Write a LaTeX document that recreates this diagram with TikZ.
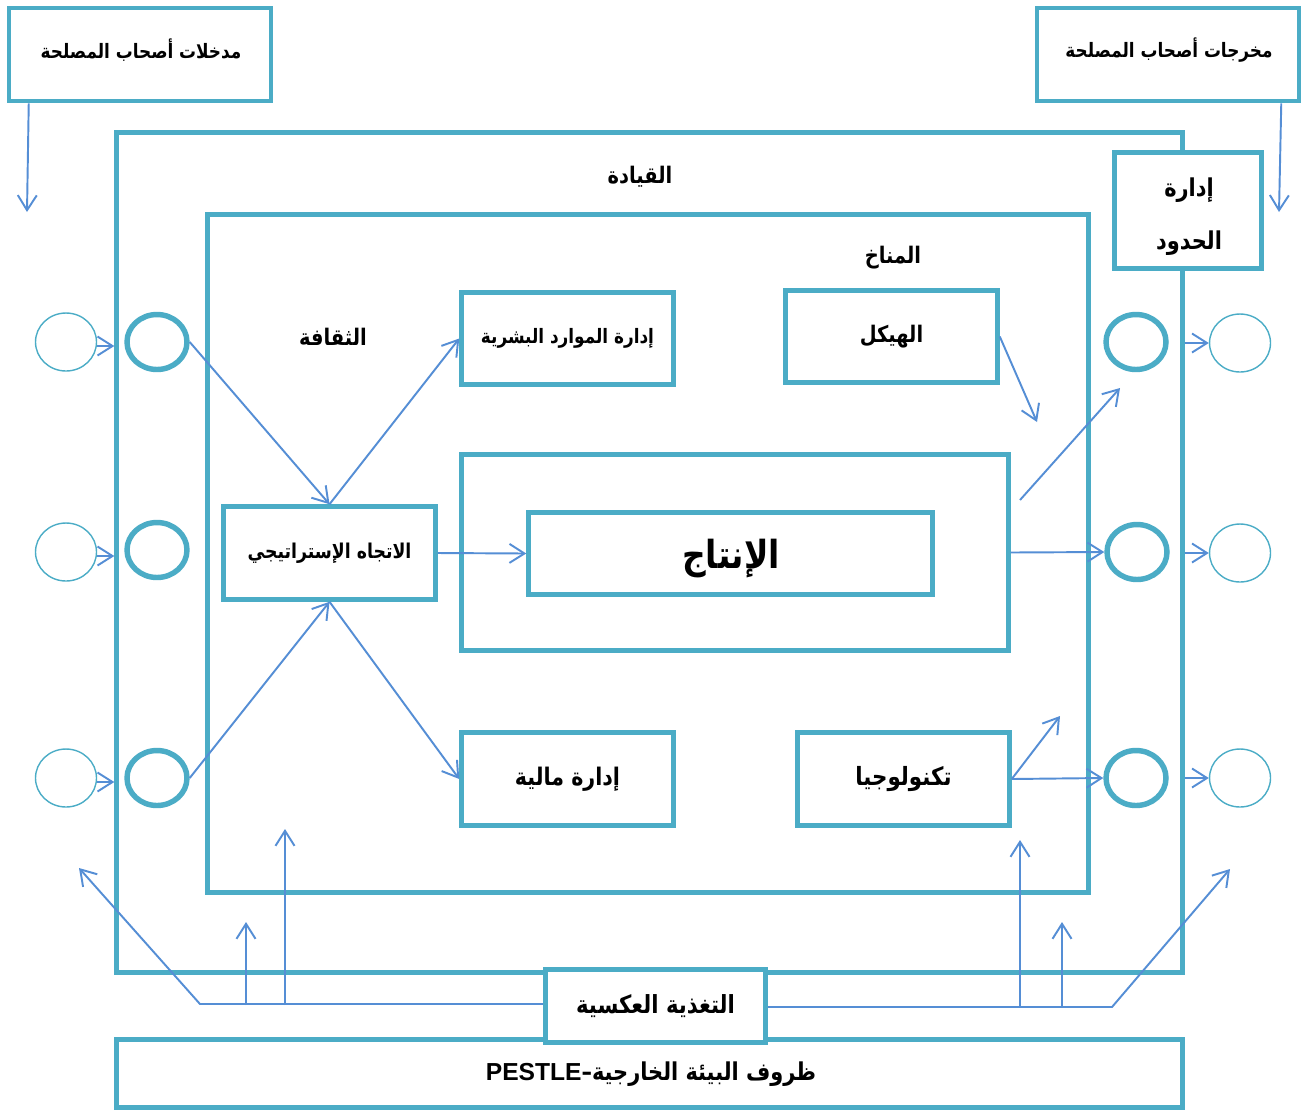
\documentclass[tikz,border=0pt]{standalone}
\usepackage{fontspec}
\usetikzlibrary{arrows.meta,shapes.geometric}
\TeXXeTstate=1
\newfontfamily\arfont[Script=Arabic,FakeStretch=0.85]{DejaVu Sans}
\newfontfamily\latfont{Liberation Sans}
\definecolor{tealframe}{HTML}{4BACC6}
\definecolor{arrowblue}{HTML}{558ED5}
\newcommand{\artxt}[1]{{\arfont\beginR #1\endR}}
\newcommand{\arsize}[1]{\arfont\bfseries\fontsize{#1}{#1}\selectfont}
\begin{document}
\begin{tikzpicture}[x=0.02cm,y=-0.02cm,
  box/.style={draw=tealframe,line width=2.6pt,fill=white,rectangle,inner sep=0pt,
    font=\arsize{13}},
  txt/.style={inner sep=0pt,font=\arsize{13}},
  ring/.style={draw=tealframe,ellipse,inner sep=0pt,line width=3.1pt,
    minimum width=1.2cm,minimum height=1.1cm},
  thinring/.style={draw=tealframe,ellipse,inner sep=0pt,line width=0.8pt,
    minimum width=1.22cm,minimum height=1.16cm},
  wire/.style={draw=arrowblue,line width=1.1pt},
  arr/.style={wire,-{Straight Barb[length=0.3cm,width=0.38cm]}},
]
\useasboundingbox (0,0) rectangle (1304,1113);

% stakeholder boxes at the top
\node[box,minimum width=5.24cm,minimum height=1.86cm] (inbox) at (140,54.5) {};
\node[txt,font=\arsize{11.3}] (inlbl) at (141,50) {\artxt{مدخلات أصحاب المصلحة}};
\node[box,minimum width=5.24cm,minimum height=1.86cm] (outbox) at (1168,54.5) {};
\node[txt,font=\arsize{11.3}] (outlbl) at (1169,50) {\artxt{مخرجات أصحاب المصلحة}};

% leadership frame and boundary management
\node[box,minimum width=21.32cm,minimum height=16.8cm] (lead) at (649.5,552.5) {};
\node[txt] (leadlbl) at (640,177) {\artxt{القيادة}};
\node[box,minimum width=2.94cm,minimum height=2.32cm] (bound) at (1188,210.5) {};
\node[txt,align=center,font=\arfont\bfseries\fontsize{14}{30}\selectfont] (boundlbl) at (1189,217)
  {\artxt{إدارة}\\\artxt{الحدود}};

% culture / climate frame
\node[box,minimum width=17.62cm,minimum height=13.56cm] (core) at (648,553.5) {};
\node[txt] (climate) at (893,258) {\artxt{المناخ}};
\node[txt] (culture) at (333,337) {\artxt{الثقافة}};

% inner elements
\node[box,minimum width=4.24cm,minimum height=1.84cm,font=\arsize{11.3}] (hr) at (567.5,338.5) {\artxt{إدارة الموارد البشرية}};
\node[box,minimum width=4.24cm,minimum height=1.84cm] (struct) at (891.5,336.5) {\artxt{الهيكل}};
\node[box,minimum width=10.94cm,minimum height=3.92cm] (prodout) at (735,552.5) {};
\node[box,minimum width=8.08cm,minimum height=1.64cm] (prodin) at (730.5,553.5) {};
\node[txt,font=\arsize{22}] (prodlbl) at (731,559) {\artxt{الإنتاج}};
\node[box,minimum width=4.24cm,minimum height=1.86cm,font=\arsize{11.6}] (strat) at (329.5,553) {\artxt{الاتجاه الإستراتيجي}};
\node[box,minimum width=4.24cm,minimum height=1.86cm,font=\arsize{13.8}] (fin) at (567.5,779) {\artxt{إدارة مالية}};
\node[box,minimum width=4.24cm,minimum height=1.86cm,font=\arsize{14.3}] (tech) at (903.5,779) {\artxt{تكنولوجيا}};

% environment and feedback
\node[box,minimum width=21.32cm,minimum height=1.36cm] (env) at (649.5,1073.5) {};
\node[txt,font=\arsize{14}] (envlbl) at (651,1074)
  {\artxt{ظروف البيئة الخارجية–\beginL{\latfont\bfseries\fontsize{14}{16}\selectfont PESTLE}\endL}};
\node[box,minimum width=4.4cm,minimum height=1.46cm,font=\arsize{14.2}] (fb) at (655.5,1006) {\artxt{التغذية العكسية}};

% input and output circles
\node[thinring] (ol1) at (66,342) {};
\node[thinring] (ol2) at (66,552) {};
\node[thinring] (ol3) at (66,778) {};
\node[ring] (il1) at (157,342) {};
\node[ring] (il2) at (157,550) {};
\node[ring] (il3) at (157,778) {};
\node[ring] (ir1) at (1136,342) {};
\node[ring] (ir2) at (1137,552) {};
\node[ring] (ir3) at (1136,778) {};
\node[thinring] (or1) at (1240,343) {};
\node[thinring] (or2) at (1240,553) {};
\node[thinring] (or3) at (1240,778) {};

% free arrow ends
\coordinate (inend) at (27,212);
\coordinate (outend) at (1279,212);
\coordinate (structend) at (1037,422);
\coordinate (prodstart) at (1020,500);
\coordinate (prodend) at (1120,388);
\coordinate (techend) at (1060,716);
\coordinate (fbl) at (200,1004);
\coordinate (fblend) at (79,868);
\coordinate (fbla) at (246,1005);
\coordinate (fblaend) at (246,922);
\coordinate (fblb) at (285,1005);
\coordinate (fblbend) at (285,829);
\coordinate (fbr) at (1112,1007);
\coordinate (fbrend) at (1230,869);
\coordinate (fbra) at (1020,1007);
\coordinate (fbraend) at (1020,840);
\coordinate (fbrb) at (1062,1007);
\coordinate (fbrbend) at (1062,922);

% stakeholder arrows
\draw[arr] (inbox.south west) ++(22,0) -- (inend);
\draw[arr] (outbox.south east) ++(-20,0) -- (outend);

% arrows into and out of the frame
\foreach \c in {ol1,ol2,ol3}{
  \draw[arr] ([yshift=-0.08cm]\c.east) -- ([yshift=-0.08cm]\c.east -| lead.west);
}
\foreach \c in {or1,or2,or3}{
  \draw[arr] (\c.west -| lead.east) -- (\c.west);
}

% inner flow
\draw[arr] (il1.east) -- (strat.north);
\draw[arr] (strat.north) -- (hr.west);
\draw[arr] (il3.east) -- (strat.south);
\draw[arr] (strat.south) -- (fin.west);
\draw[arr] (strat.east) -- (prodin.west);
\draw[arr] (struct.east) -- (structend);
\draw[arr] (prodstart) -- (prodend);
\draw[arr] (prodout.east) -- (ir2.west);
\draw[arr] (tech.east) -- (techend);
\draw[arr] (tech.east) -- (ir3.west);

% feedback loops
\draw[arr] (fb.west |- fbl) -- (fbl) -- (fblend);
\draw[arr] (fbla) -- (fblaend);
\draw[arr] (fblb) -- (fblbend);
\draw[arr] (fb.east |- fbr) -- (fbr) -- (fbrend);
\draw[arr] (fbra) -- (fbraend);
\draw[arr] (fbrb) -- (fbrbend);
\end{tikzpicture}
\end{document}
